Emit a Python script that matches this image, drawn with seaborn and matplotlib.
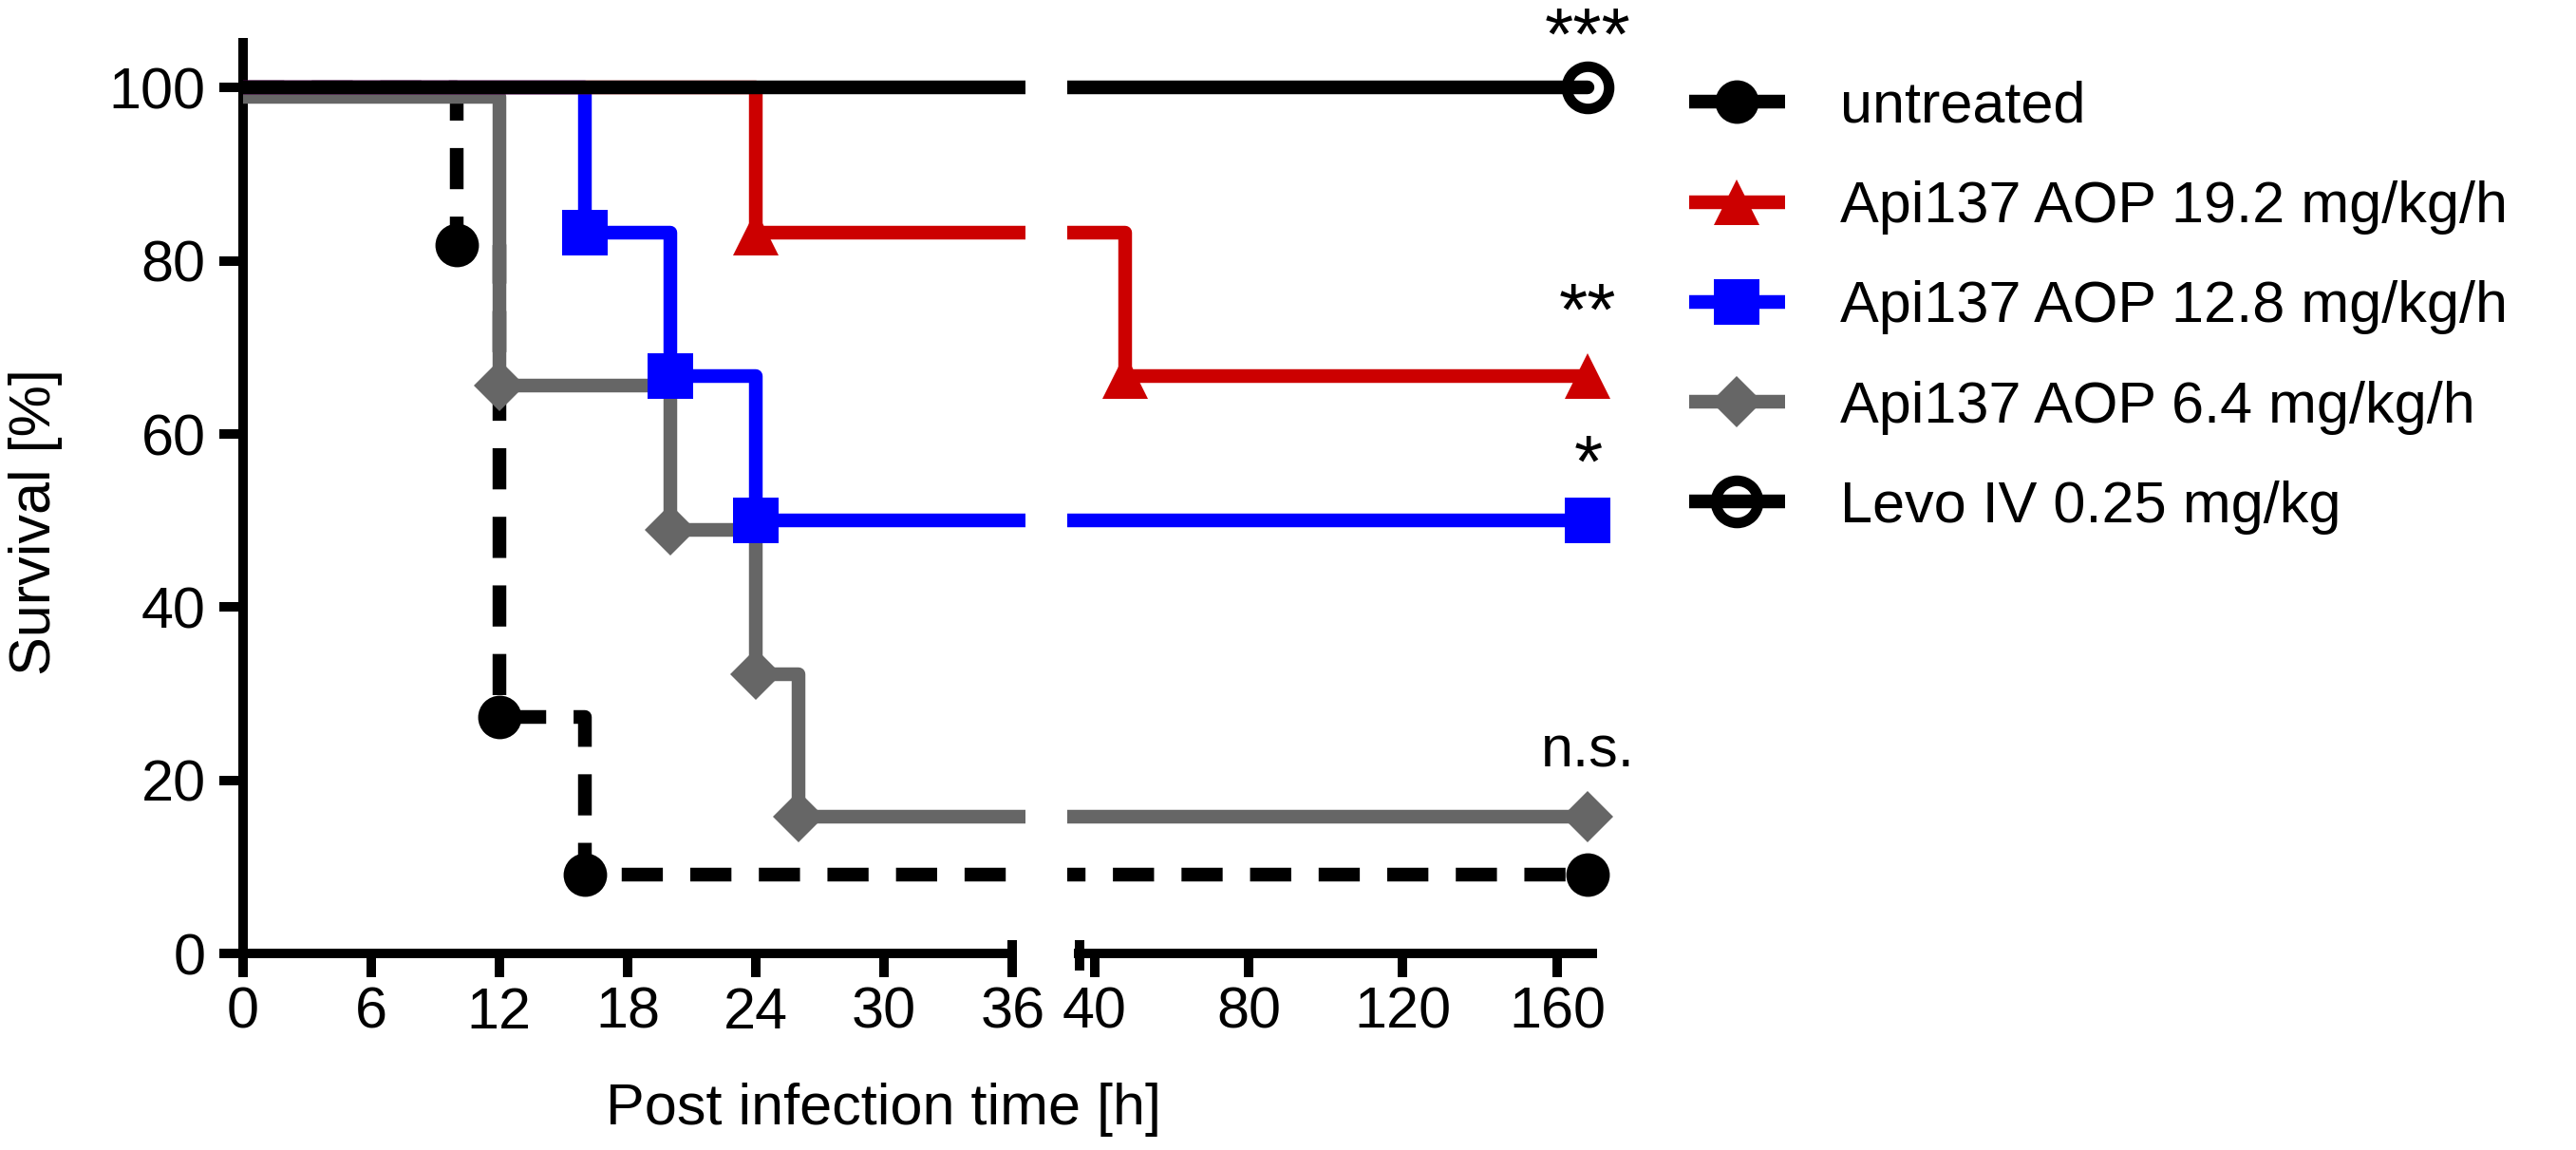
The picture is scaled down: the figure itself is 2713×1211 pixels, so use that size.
import matplotlib
matplotlib.use("Agg")
import matplotlib.pyplot as plt
from matplotlib.lines import Line2D
import seaborn as sns

sns.set_style("ticks")
plt.rcParams["font.family"] = ["Liberation Sans", "DejaVu Sans"]
plt.rcParams["text.color"] = "black"
plt.rcParams["xtick.color"] = "black"
plt.rcParams["ytick.color"] = "black"
plt.rcParams["axes.labelcolor"] = "black"

# survival curves: time [h] and survival [%]
untreated_t = [0, 10, 12, 16, 168]
untreated_s = [100, 81.8, 27.3, 9.1, 9.1]
api192_t = [0, 24, 48, 168]
api192_s = [100, 83.3, 66.7, 66.7]
api128_t = [0, 16, 20, 24, 168]
api128_s = [100, 83.3, 66.7, 50.0, 50.0]
api64_t = [0, 12, 20, 24, 26, 168]
api64_s = [98.9, 65.6, 48.9, 32.3, 15.8, 15.8]
levo_t = [0, 168]
levo_s = [100, 100]

labels = ["untreated", "Api137 AOP 19.2 mg/kg/h", "Api137 AOP 12.8 mg/kg/h",
          "Api137 AOP 6.4 mg/kg/h", "Levo IV 0.25 mg/kg"]
signif = ["***", "**", "*", "n.s."]
signif_y = [103.3, 71.4, 53.9, 21.6]
signif_fs = [56, 56, 56, 44]

left_ticks = [0, 6, 12, 18, 24, 30, 36]
right_ticks = [40, 80, 120, 160]
y_ticks = [0, 20, 40, 60, 80, 100]

FS = 44
LW = 10.4
SPINE = 7.2

# (t, s, color, marker, size, facecolor, edgewidth, dashed, zorder)
series = [
    (untreated_t, untreated_s, "black", "o", 33, "black", 0, True, 2),
    (api64_t, api64_s, "#666666", "D", 28, "#666666", 0, False, 3),
    (api128_t, api128_s, "#0000FF", "s", 34.5, "#0000FF", 0, False, 4),
    (api192_t, api192_s, "#CC0000", "^", 34.5, "#CC0000", 0, False, 5),
    (levo_t, levo_s, "black", "o", 32, "none", 8, False, 6),
]

fig = plt.figure(figsize=(27.13, 12.11), dpi=100)
bottom, height = 0.1709, 0.792
axl = fig.add_axes([0.0942, bottom, 0.3038, height])
axr = fig.add_axes([0.4144, bottom, 0.2140, height])

for ax in (axl, axr):
    for t, s, c, m, ms, fc, mew, dashed, z in series:
        sns.lineplot(x=t, y=s, ax=ax, estimator=None, sort=False, legend=False,
                     drawstyle="steps-post", color=c, lw=LW,
                     linestyle=(0, (3, 2)) if dashed else "-",
                     dash_capstyle="butt", solid_joinstyle="round",
                     marker=m, markersize=ms, markevery=list(range(1, len(t))),
                     mfc=fc, mec=c, mew=mew, zorder=z)
    ax.set_ylim(0, 105.2)
    ax.set_xlabel("")
    ax.set_ylabel("")
    ax.tick_params(axis="both", length=18, width=SPINE, labelsize=FS, color="black",
                   labelcolor="black")
    ax.tick_params(axis="x", pad=7)
    ax.tick_params(axis="y", pad=10)
    for sp in ax.spines.values():
        sp.set_linewidth(SPINE)
        sp.set_color("black")

axl.set_xlim(0, 36.6)
axl.set_xticks(left_ticks)
axl.set_yticks(y_ticks)
axl.spines["bottom"].set_bounds(0, 36)
axl.spines["left"].set_bounds(0, 105.2)
axl.spines["top"].set_visible(False)
axl.spines["right"].set_visible(False)

axr.set_xlim(33, 176)
axr.set_xticks(right_ticks)
axr.set_yticks([])
axr.spines["bottom"].set_bounds(36, 169.2)
for side in ("top", "right", "left"):
    axr.spines[side].set_visible(False)

# break caps on both axis ends
axl.plot([36, 36], [0, 0.0146], transform=axl.get_xaxis_transform(),
         color="black", lw=SPINE, solid_capstyle="butt", clip_on=False)
axr.plot([36.1, 36.1], [-0.0188, 0.0146], transform=axr.get_xaxis_transform(),
         color="black", lw=SPINE, solid_capstyle="butt", clip_on=False)

for txt, y, fs in zip(signif, signif_y, signif_fs):
    axr.text(168, y, txt, ha="center", va="baseline", fontsize=fs)

fig.text(0.343, 0.0355, "Post infection time [h]", ha="center", va="center", fontsize=FS)
fig.text(0.014, 0.546, "Survival [%]", ha="center", va="center", rotation=90, fontsize=FS)

legend_order = [0, 3, 2, 1, 4]
handles = []
for i in legend_order:
    t, s, c, m, ms, fc, mew, dashed, z = series[i]
    handles.append(Line2D([], [], color=c, lw=LW, marker=m, markersize=ms,
                          mfc=fc, mec=c, mew=mew, solid_capstyle="butt"))
fig.legend(handles, labels, loc="upper left", bbox_to_anchor=(0.6557, 0.930),
           frameon=False, fontsize=FS, borderpad=0, borderaxespad=0,
           handlelength=1.65, handletextpad=0.95, labelspacing=0.79)

fig.savefig("out.png", dpi=100)
